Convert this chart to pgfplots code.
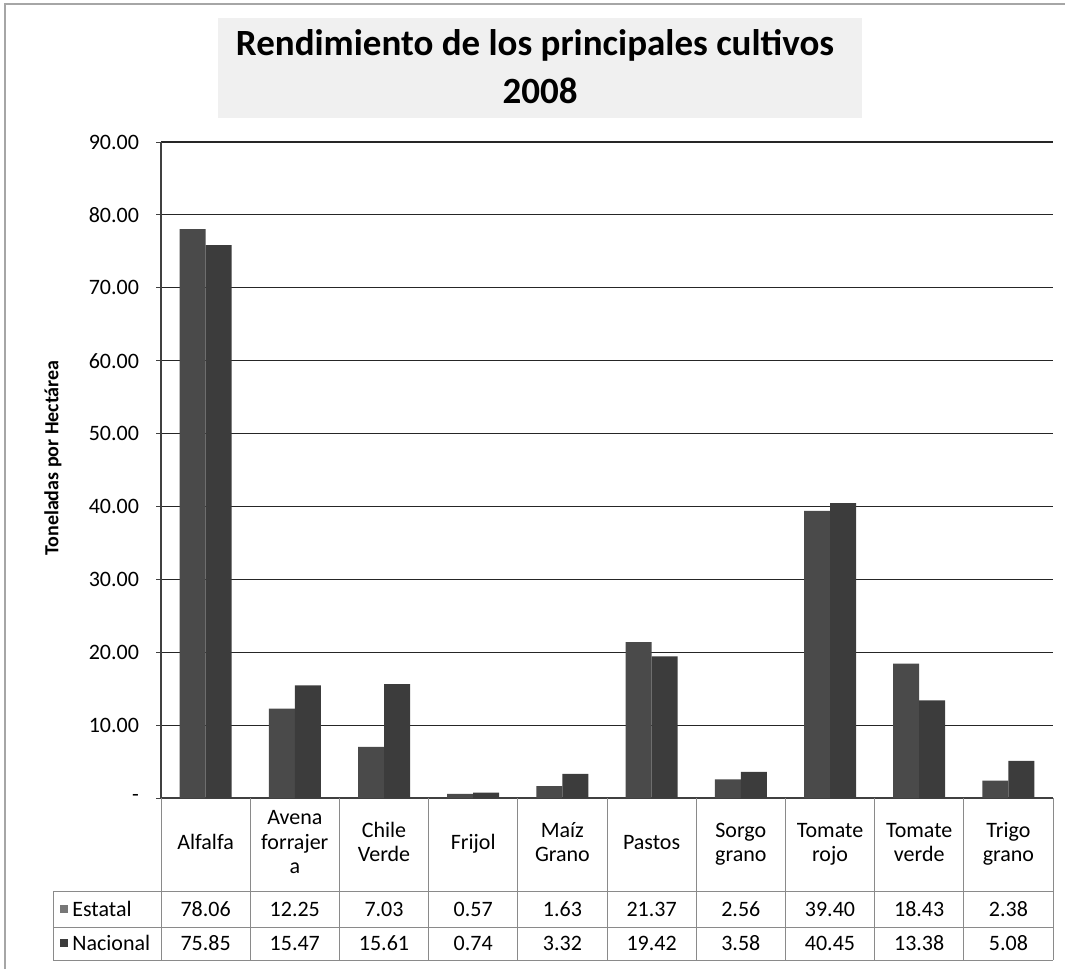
\documentclass[border=0pt]{standalone}
\usepackage{fontspec}
\setmainfont{Carlito}
\usepackage{pgfplots}
\pgfplotsset{compat=1.18}
\definecolor{est}{HTML}{4A4A4A}
\definecolor{nac}{HTML}{3C3C3C}
\definecolor{tline}{HTML}{8A8A8A}
\begin{document}
\begin{tikzpicture}
\begin{scope}[x=0.5pt,y=-0.5pt]
\useasboundingbox (0,0) rectangle (1065,969);
\fill[gray!12] (218,18) rectangle (862,118);
\node[font=\fontsize{18.5}{21}\selectfont\bfseries, anchor=base] at (535,55) {Rendimiento de los principales cultivos};
\node[font=\fontsize{18.5}{21}\selectfont\bfseries, anchor=base] at (540,103) {2008};
\draw[gray!70, line width=0.6pt] (5,969) -- (5,4) -- (1065,4);
\node[font=\fontsize{10}{12}\selectfont\bfseries, rotate=90] at (53,458) {Toneladas por Hectárea};
\end{scope}
\begin{axis}[
  at={(80.5pt,-399pt)}, anchor=south west,
  scale only axis, width=446pt, height=328pt,
  ybar=0pt, bar width=13pt,
  xmin=-0.5, xmax=9.5, ymin=0, ymax=90,
  xtick=\empty,
  ytick={0,10,...,90},
  yticklabels={-,10.00,20.00,30.00,40.00,50.00,60.00,70.00,80.00,90.00},
  yticklabel style={font=\fontsize{11}{13}\selectfont, xshift=-5pt},
  ymajorgrids, grid style={black!85, line width=0.6pt},
  axis x line=bottom, axis y line=left,
  axis line style={-, black!75, line width=0.6pt},
  tick align=outside, major tick length=2.5pt,
  tick style={black!75, line width=0.5pt},
  clip=false,
]
\addplot[fill=est, draw=none] coordinates {(0,78.06) (1,12.25) (2,7.03) (3,0.57) (4,1.63) (5,21.37) (6,2.56) (7,39.40) (8,18.43) (9,2.38)};
\addplot[fill=nac, draw=none] coordinates {(0,75.85) (1,15.47) (2,15.61) (3,0.74) (4,3.32) (5,19.42) (6,3.58) (7,40.45) (8,13.38) (9,5.08)};
\end{axis}
\begin{scope}[x=0.5pt,y=-0.5pt, tl/.style={tline, line width=0.5pt}]
% table lines
\draw[tl] (53,891) -- (1053,891);
\draw[tl] (53,927) -- (1053,927);
\draw[tl] (53,960) -- (1053,960);
\draw[tl] (53,891) -- (53,960);
\foreach \k in {0,...,10} {\draw[tl] ({161+\k*89.2},798) -- ({161+\k*89.2},960);}
% category names
\foreach \n [count=\i from 0] in {\strut Alfalfa,{\strut Avena\\\strut forrajer\\\strut a},{\strut Chile\\\strut Verde},\strut Frijol,{\strut Maíz\\\strut Grano},\strut Pastos,{\strut Sorgo\\\strut grano},{\strut Tomate\\\strut rojo},{\strut Tomate\\\strut verde},{\strut Trigo\\\strut grano}}
  {\node[font=\fontsize{11}{12.2}\selectfont, align=center, inner sep=0pt] at ({161+(\i+0.5)*89.2},844.5) {\n};}
\foreach \v [count=\i from 0] in {78.06,12.25,7.03,0.57,1.63,21.37,2.56,39.40,18.43,2.38}
  {\node[font=\fontsize{11}{13}\selectfont] at ({161+(\i+0.5)*89.2},909) {\v};}
\foreach \v [count=\i from 0] in {75.85,15.47,15.61,0.74,3.32,19.42,3.58,40.45,13.38,5.08}
  {\node[font=\fontsize{11}{13}\selectfont] at ({161+(\i+0.5)*89.2},943) {\v};}
% legend keys
\fill[est!75] (60,905) rectangle (68,913);
\fill[nac] (60,939) rectangle (68,947);
\node[font=\fontsize{11}{13}\selectfont, anchor=west, inner sep=0pt] at (72,909) {Estatal};
\node[font=\fontsize{11}{13}\selectfont, anchor=west, inner sep=0pt] at (72,943) {Nacional};
\end{scope}
\end{tikzpicture}
\end{document}
